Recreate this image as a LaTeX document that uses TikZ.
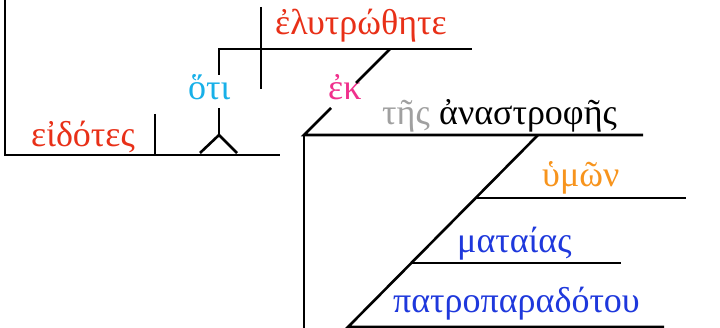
\documentclass[tikz,border=0pt]{standalone}
\usepackage{fontspec}
\setmainfont{Liberation Serif}
\usetikzlibrary{positioning}
\definecolor{wred}{RGB}{232,48,24}
\definecolor{wcyan}{RGB}{24,176,232}
\definecolor{wpink}{RGB}{240,48,140}
\definecolor{wgray}{RGB}{160,160,160}
\definecolor{worange}{RGB}{247,148,29}
\definecolor{wblue}{RGB}{30,56,220}
\tikzset{
  w/.style={anchor=base west,inner sep=0pt,font=\fontsize{36}{40}\selectfont},
  ln/.style={line width=2.6pt},
  every picture/.style={x=1pt,y=-1pt},
}
\begin{document}
\begin{tikzpicture}
\useasboundingbox (0,0) rectangle (720,328);
% main clause
\coordinate (l0) at (5,0); \coordinate (b0) at (5,155); \coordinate (b1) at (280,155);
\coordinate (p0) at (155,114); \coordinate (p1) at (155,155);
\node[w,text=wred] (eid) at (31,147){εἰδότες};
% object clause
\coordinate (st) at (219,135); \coordinate (sl) at (200,153); \coordinate (sr) at (237,153);
\coordinate (s0) at (219,108); \coordinate (u0) at (219,75); \coordinate (u1) at (219,49);
\coordinate (h1) at (472,49); \coordinate (v0) at (261,7); \coordinate (v1) at (261,89);
\node[w,text=wcyan] (oti) at (188,100){ὅτι};
\node[w,text=wred] (ely) at (275,35){ἐλυτρώθητε};
% prepositional phrase
\coordinate (e0) at (304,135); \coordinate (e1) at (331,108);
\coordinate (e2) at (356,83); \coordinate (e3) at (390,49);
\coordinate (a1) at (643,135); \coordinate (d0) at (304,328);
\node[w,text=wpink] (ek) at (328,100){ἐκ};
\node[w,text=wgray] (tes) at (382,125){τῆς};
\node[w,right=9pt of tes.base east,anchor=base west] (ana){ἀναστροφῆς};
% modifiers
\coordinate (m0) at (538,135); \coordinate (m3) at (348,327);
\coordinate (m1) at (475,198); \coordinate (n1) at (686,198);
\coordinate (m2) at (412,263); \coordinate (n2) at (621,263);
\coordinate (n3) at (664,327);
\node[w,text=worange] (hym) at (542,187){ὑμῶν};
\node[w,text=wblue] (mat) at (457,253){ματαίας};
\node[w,text=wblue] (pat) at (393,313){πατροπαραδότου};
\draw[ln] (l0)--(b0)--(b1); \draw[ln] (p0)--(p1);
\draw[ln] (sl)--(st)--(sr); \draw[ln] (st)--(s0); \draw[ln] (u0)--(u1)--(h1);
\draw[ln] (v0)--(v1);
\draw[ln] (e1)--(e0)--(a1); \draw[ln] (e2)--(e3); \draw[ln] (e0)--(d0);
\draw[ln] (m0)--(m3)--(n3); \draw[ln] (m1)--(n1); \draw[ln] (m2)--(n2);
\end{tikzpicture}
\end{document}
